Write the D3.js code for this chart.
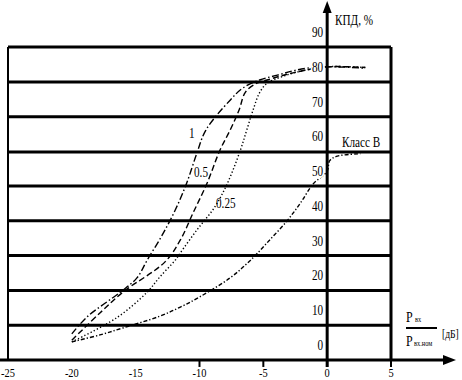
<!DOCTYPE html>
<html>
<head>
<meta charset="utf-8">
<script src="https://cdn.jsdelivr.net/npm/d3@7"></script>
<style>
  body { margin: 0; background: #fff; }
  svg { display: block; font-family: "Liberation Serif", "DejaVu Serif", serif; }
</style>
</head>
<body>
<svg id="chart" width="462" height="380"></svg>
<script>
// values (x in dB, y in %)
const xTicks = [-25, -20, -15, -10, -5, 0, 5];
const xTickMarks = [-10, -5, 0, 5];
const yTicks = [0, 10, 20, 30, 40, 50, 60, 70, 80, 90];
const gridLines = [5.7, 15.7, 25.7, 35.7, 45.7, 55.5, 65.6, 75.6, 85.7];
const baseLevel = -4.3;

const curve1X = [-20, -18.8, -16.2, -14.9, -14.1, -13.0, -11.9, -11.0, -10.2, -9.5, -7.6, -6.6, -5.3, -3.9, -2.7, -1.6, 0, 3];
const curve1Y = [3.2, 8.1, 15.2, 19.3, 24.4, 31.1, 38.8, 46.6, 55.2, 61.8, 70.4, 73.9, 76.2, 77.6, 78.8, 79.6, 80, 79.6];

const curve05X = [-20, -17.8, -16, -12.7, -11.5, -10.5, -9.4, -8.4, -7.6, -6.9, -6.4, -5.5, -4.7, -3.5, -2, 0, 3];
const curve05Y = [1.4, 9.2, 15.2, 23.9, 30.2, 38, 46.6, 56, 61.8, 67.6, 72.7, 75.3, 76.2, 77.5, 78.8, 80, 79.8];

const curve025X = [-20, -16.5, -14.1, -13.1, -11.9, -11.5, -10.2, -8.8, -7.8, -6.8, -6.3, -5.8, -5.3, -4.7, -3.5, -2, 0, 3];
const curve025Y = [0.9, 7.8, 15.2, 19.6, 24.4, 26.5, 33.1, 39.7, 46.6, 56, 61.8, 67.6, 72.5, 75.3, 77.2, 78.8, 80, 79.8];

const classBX = [-20, -17.8, -16, -13.1, -11.5, -10, -7.6, -6, -4.5, -3.1, -2.1, -1.1, 0, 0.2, 0.8, 2.6];
const classBY = [0.9, 2.9, 4.9, 8.3, 10.9, 13.8, 19.3, 24.4, 30.2, 35.9, 40.8, 46.3, 50, 53, 54.3, 55];

const series = [
  {xs: curve1X, ys: curve1Y, dash: "7,2.5,1.5,2.5"},
  {xs: curve05X, ys: curve05Y, dash: "6,3"},
  {xs: curve025X, ys: curve025Y, dash: "1.3,2.2"},
  {xs: classBX, ys: classBY, dash: "4,2,1.3,2"}
];

const svg = d3.select("#chart");
const x = d3.scaleLinear().domain([-25, 5]).range([8, 391]);
const y = d3.scaleLinear().domain([0, 90]).range([345, 32]);

function txt(g, px, py, s, size, anchor) {
  return g.append("text")
    .attr("transform", `translate(${px},${py}) scale(0.8,1)`)
    .attr("text-anchor", anchor || "start")
    .attr("font-size", size)
    .text(s);
}

// frame + horizontal rules
const grid = svg.append("g").attr("stroke", "#000");
grid.selectAll("line.h").data(gridLines).join("line")
  .attr("x1", x(-25)).attr("x2", x(5))
  .attr("y1", d => y(d)).attr("y2", d => y(d))
  .attr("stroke-width", 3);
grid.append("line")
  .attr("x1", x(-25)).attr("x2", x(-25))
  .attr("y1", y(gridLines[gridLines.length - 1])).attr("y2", y(baseLevel))
  .attr("stroke-width", 2);
grid.append("line")
  .attr("x1", x(5)).attr("x2", x(5))
  .attr("y1", y(gridLines[gridLines.length - 1])).attr("y2", y(baseLevel))
  .attr("stroke-width", 3);

// x tick marks under the axis
grid.selectAll("line.t").data(xTickMarks).join("line")
  .attr("x1", d => x(d)).attr("x2", d => x(d))
  .attr("y1", y(baseLevel)).attr("y2", y(baseLevel) + 7)
  .attr("stroke-width", 2);

// curves
const line = d3.line()
  .x(d => x(d[0])).y(d => y(d[1]))
  .curve(d3.curveCatmullRom.alpha(0.5));
svg.append("g").selectAll("path").data(series).join("path")
  .attr("d", s => line(s.xs.map((v, i) => [v, s.ys[i]])))
  .attr("fill", "none")
  .attr("stroke", "#000")
  .attr("stroke-width", 1.4)
  .attr("stroke-dasharray", s => s.dash);

// y tick labels (white halo cuts the curves like in the source)
const yl = svg.append("g");
yTicks.forEach(v => {
  txt(yl, x(0) - 4, y(v) + 5, String(v), 14, "end")
    .attr("stroke", "#fff").attr("stroke-width", 4)
    .attr("paint-order", "stroke");
});

// axes with arrows
svg.append("line")
  .attr("x1", 0).attr("x2", 446)
  .attr("y1", y(baseLevel)).attr("y2", y(baseLevel))
  .attr("stroke", "#000").attr("stroke-width", 3);
svg.append("path")
  .attr("d", `M456,${y(baseLevel)} L443,${y(baseLevel) - 5} L443,${y(baseLevel) + 5} Z`)
  .attr("fill", "#000");
svg.append("line")
  .attr("x1", x(0)).attr("x2", x(0))
  .attr("y1", y(baseLevel) + 7).attr("y2", 10)
  .attr("stroke", "#000").attr("stroke-width", 3);
svg.append("path")
  .attr("d", `M${x(0)},1 L${x(0) - 4.5},13 L${x(0) + 4.5},13 Z`)
  .attr("fill", "#000");

// x tick labels (first one kept inside the left edge)
const xl = svg.append("g");
xTicks.forEach((v, i) => {
  if (i === 0) txt(xl, 1, 377, String(v), 13, "start");
  else txt(xl, x(v), 377, String(v), 13, "middle");
});

// titles and curve labels
const lab = svg.append("g");
txt(lab, 335, 25, "КПД, %", 14);
txt(lab, 342, 147, "Класс В", 14);
txt(lab, 189, 138, "1", 14);
txt(lab, 194, 177, "0.5", 14);
txt(lab, 216, 208, "0.25", 14);

// axis unit: P_вх / P_вх.ном [дБ]
txt(lab, 406, 322, "P", 15);
txt(lab, 415, 322, "вх", 8);
lab.append("line")
  .attr("x1", 406).attr("x2", 437).attr("y1", 328).attr("y2", 328)
  .attr("stroke", "#000").attr("stroke-width", 2);
txt(lab, 406, 346, "P", 15);
txt(lab, 414, 346, "вх.ном", 8);
txt(lab, 442, 338, "[дБ]", 12);
</script>
</body>
</html>
